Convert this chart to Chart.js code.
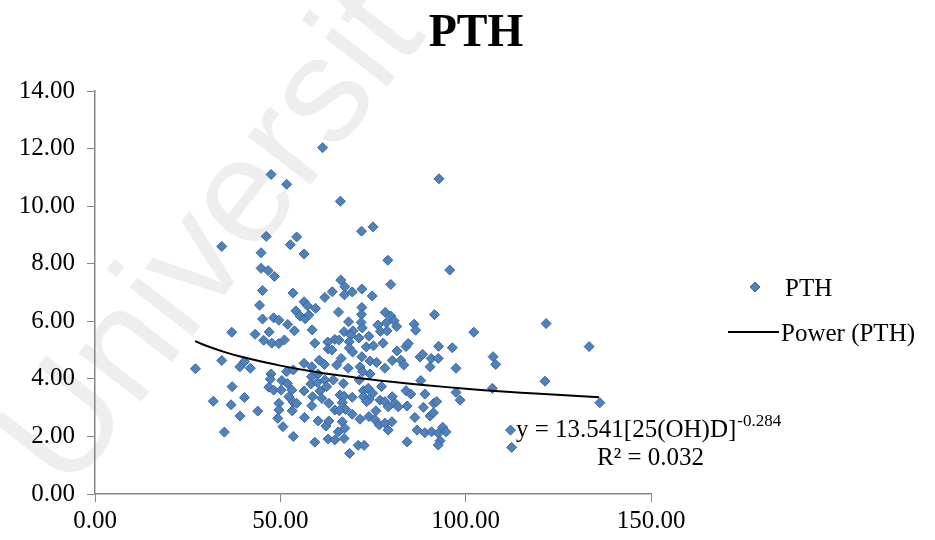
<!DOCTYPE html>
<html>
<head>
<meta charset="utf-8">
<script src="https://cdn.jsdelivr.net/npm/chart.js@4.4.1/dist/chart.umd.min.js"></script>
<style>
  html, body { margin: 0; padding: 0; background: #fff; }
  #wrap { width: 935px; height: 540px; }
</style>
</head>
<body>
<div id="wrap"><canvas id="pthChart" width="935" height="540"></canvas></div>
<script>
  // 25(OH)D values (x axis)
  const vitD = [
    61.4, 47.5, 51.7, 46.2, 54.4, 34.2, 52.7, 44.8, 56.4,
    92.8, 66.2, 71.9, 75.0,
    44.8, 46.7, 48.4, 45.2, 53.4, 44.4, 56.4, 57.3, 54.2, 59.5, 62.0, 55.3, 56.7, 57.7,
    45.2, 48.2, 49.6, 52.0, 53.8, 58.6, 36.9, 43.2, 47.0, 45.5, 47.7, 49.6, 51.1, 59.3,
    62.8, 62.9, 34.2, 40.3, 39.1, 41.9, 27.1, 56.4, 60.5, 58.5, 61.9,
    79.0, 95.7, 79.8, 66.3, 67.4, 64.0, 67.3, 69.4, 72.0, 74.8, 65.7, 72.0, 71.9, 78.3,
    79.8, 80.7, 91.6, 68.4, 71.8, 76.3, 78.6, 81.4, 86.1, 86.5, 102.2, 67.2, 69.6, 72.1,
    77.0, 78.8, 64.7, 65.8, 69.0, 71.2, 73.9, 77.7, 63.9, 68.6, 68.6, 73.2, 75.1, 81.5,
    83.9, 84.5, 69.5, 66.4, 72.0, 74.2, 76.0, 80.2, 82.5, 83.3, 87.7, 88.4, 90.7, 92.7,
    92.6, 96.4, 97.4, 65.2, 68.3, 71.5, 78.2, 90.4,
    121.7, 133.3, 107.4, 108.1,
    37.0, 31.9, 36.7, 40.3, 39.1, 43.9, 34.9, 47.5, 47.3, 46.9, 48.2, 50.4, 50.2, 51.9,
    53.1, 51.7, 53.5, 49.6, 49.6, 49.3, 50.7, 52.3, 53.5, 54.4, 53.2, 56.5, 53.5, 56.4,
    58.4, 58.2, 60.2, 60.0, 62.0, 62.5, 60.7, 58.7, 61.2, 58.5, 63.1, 60.2, 62.3, 63.1,
    62.9, 59.3,
    64.3, 67.0, 66.1, 67.2, 69.4, 66.7, 64.7, 67.6, 69.4, 65.9, 66.7, 65.6, 67.4, 64.7,
    67.2, 68.7, 71.0, 72.6, 71.5, 71.3, 72.4, 73.7, 74.9, 72.4, 74.0, 73.3, 76.9, 77.3,
    74.2, 72.2, 75.8, 73.9, 75.5, 76.7, 78.2, 80.1, 79.1, 78.2, 79.1, 80.2, 80.9, 81.8,
    84.2, 83.9, 85.2, 87.9, 89.0, 88.6, 90.4, 91.3, 86.3, 91.4, 92.2, 86.9, 89.0, 90.8,
    92.6, 93.8, 94.7, 93.1, 92.6, 84.2, 97.4, 98.5,
    107.2, 121.4, 136.2, 112.1, 112.4
  ];

  // PTH values (y axis), same order as vitD
  const pth = [
    12.03, 11.10, 10.76, 8.95, 8.93, 8.60, 8.66, 8.38, 8.34,
    10.95, 10.17, 9.13, 9.28,
    7.84, 7.76, 7.56, 7.07, 6.98, 6.56, 6.68, 6.54, 6.36, 6.45, 6.83, 6.18, 6.09, 6.22,
    6.08, 6.12, 6.04, 5.89, 5.67, 5.70, 5.62, 5.55, 5.63, 5.34, 5.24, 5.23, 5.35, 5.24,
    5.28, 5.04, 4.64, 4.60, 4.42, 4.37, 4.35, 4.54, 4.65, 4.42, 4.50,
    8.12, 7.78, 7.28, 7.43, 7.20, 7.03, 6.92, 7.02, 7.12, 6.88, 6.32, 6.48, 6.24, 6.31,
    6.18, 6.02, 6.23, 5.98, 5.96, 5.87, 5.95, 5.82, 5.90, 5.69, 5.62, 5.64, 5.67, 5.77,
    5.65, 5.67, 5.37, 5.35, 5.52, 5.42, 5.48, 5.24, 5.00, 5.29, 5.07, 5.11, 5.15, 4.97,
    5.12, 5.23, 4.93, 4.71, 4.77, 4.62, 4.57, 4.64, 4.65, 4.48, 4.76, 4.85, 4.71, 5.13,
    4.71, 5.08, 4.37, 4.48, 4.37, 4.42, 4.37, 4.42,
    5.92, 5.12, 4.77, 4.50,
    3.73, 3.22, 3.10, 3.35, 2.71, 2.88, 2.15, 4.17, 3.99, 3.71, 3.61, 3.94, 3.61, 3.84,
    3.61, 4.25, 4.31, 3.15, 2.92, 2.63, 2.34, 3.38, 3.19, 3.15, 2.89, 2.66, 2.00, 3.58,
    4.07, 3.82, 4.17, 3.88, 3.96, 3.73, 3.58, 3.38, 3.32, 3.07, 3.15, 2.54, 2.36, 2.54,
    1.91, 1.80,
    3.96, 3.84, 3.44, 3.40, 3.36, 3.17, 2.92, 2.94, 2.77, 2.89, 2.51, 2.16, 2.28, 1.88,
    1.93, 1.41, 1.69, 1.69, 2.60, 3.96, 3.59, 3.67, 3.50, 3.38, 3.29, 3.21, 3.26, 3.73,
    4.17, 4.25, 2.89, 2.69, 2.59, 2.40, 2.46, 2.51, 2.22, 3.21, 3.03, 3.38, 3.15, 3.03,
    3.06, 3.59, 3.47, 3.94, 3.47, 3.01, 2.71, 2.82, 2.66, 3.15, 3.21, 2.22, 2.13, 2.16,
    2.11, 2.32, 2.16, 1.85, 1.70, 1.81, 3.53, 3.26,
    3.67, 3.92, 3.17, 2.22, 1.62
  ];

  // Power trendline
  const trendX = [27, 30, 35, 40, 50, 60, 70, 80, 90, 100, 110, 120, 136];
  const trendY = [5.31, 5.15, 4.93, 4.75, 4.46, 4.23, 4.05, 3.90, 3.77, 3.66, 3.56, 3.48, 3.36];

  const xTicks = [0, 50, 100, 150];
  const yTicks = [0, 2, 4, 6, 8, 10, 12, 14];

  const serif = "'Liberation Serif', 'Times New Roman', serif";
  const axisGray = '#868686';
  const markerFill = '#4F81BD';
  const markerEdge = '#3A679E';

  const points = vitD.map((v, i) => ({ x: v, y: pth[i] }));
  const trend = trendX.map((v, i) => ({ x: v, y: trendY[i] }));

  // faint watermark, title, legend and equation text
  const extras = {
    id: 'extras',
    beforeDraw(chart) {
      const c = chart.ctx;
      c.save();
      c.translate(215, 240);
      c.rotate(-52 * Math.PI / 180);
      c.font = "150px 'Liberation Sans', sans-serif";
      c.fillStyle = 'rgba(0,0,0,0.065)';
      c.textAlign = 'center';
      c.textBaseline = 'middle';
      c.fillText('Universit', 0, 0);
      c.restore();
    },
    afterDraw(chart) {
      const c = chart.ctx;
      c.save();
      c.fillStyle = '#000';
      c.textBaseline = 'middle';

      c.font = 'bold 46px ' + serif;
      c.textAlign = 'center';
      c.fillText('PTH', 476, 34);

      // legend
      c.textAlign = 'left';
      c.font = '25px ' + serif;
      c.fillStyle = markerFill;
      c.strokeStyle = markerEdge;
      c.beginPath();
      c.moveTo(755, 282); c.lineTo(760, 287); c.lineTo(755, 292); c.lineTo(750, 287);
      c.closePath(); c.fill(); c.stroke();
      c.fillStyle = '#000';
      c.fillText('PTH', 785, 289);
      c.strokeStyle = '#000';
      c.lineWidth = 2;
      c.beginPath(); c.moveTo(728, 332); c.lineTo(779, 332); c.stroke();
      c.fillText('Power (PTH)', 781, 334);

      // fitted equation
      const eq = 'y = 13.541[25(OH)D]';
      c.fillText(eq, 516, 430);
      const w = c.measureText(eq).width;
      c.font = '17px ' + serif;
      c.fillText('-0.284', 516 + w + 1, 422);
      c.font = '25px ' + serif;
      c.fillText('R\u00B2 = 0.032', 597, 458);
      c.restore();
    }
  };

  new Chart(document.getElementById('pthChart'), {
    type: 'scatter',
    data: {
      datasets: [{
        label: 'PTH',
        data: points,
        pointStyle: 'rectRot',
        pointRadius: 5,
        backgroundColor: markerFill,
        borderColor: markerEdge,
        borderWidth: 1,
        order: 2
      }, {
        label: 'Power (PTH)',
        type: 'line',
        data: trend,
        showLine: true,
        pointRadius: 0,
        borderColor: '#000',
        borderWidth: 2,
        tension: 0.4,
        fill: false,
        order: 1
      }]
    },
    options: {
      responsive: false,
      animation: false,
      layout: { padding: { left: 0, right: 284, top: 91, bottom: 0 } },
      plugins: { legend: { display: false }, title: { display: false }, tooltip: { enabled: false } },
      scales: {
        x: {
          type: 'linear',
          min: 0, max: 150,
          afterBuildTicks: s => { s.ticks = xTicks.map(v => ({ value: v })); },
          afterFit: s => { s.height = 46; },
          ticks: { color: '#000', font: { family: serif, size: 25 }, padding: 4, callback: v => v.toFixed(2) },
          grid: { drawOnChartArea: false, drawTicks: true, tickLength: 8, color: axisGray },
          border: { color: axisGray, width: 1.5 }
        },
        y: {
          min: 0, max: 14,
          afterBuildTicks: s => { s.ticks = yTicks.map(v => ({ value: v })); },
          afterFit: s => { s.width = 95; },
          ticks: { color: '#000', font: { family: serif, size: 25 }, padding: 12, callback: v => v.toFixed(2) },
          grid: { drawOnChartArea: false, drawTicks: true, tickLength: 8, color: axisGray },
          border: { color: axisGray, width: 1.5 }
        }
      }
    },
    plugins: [extras]
  });
</script>
</body>
</html>
